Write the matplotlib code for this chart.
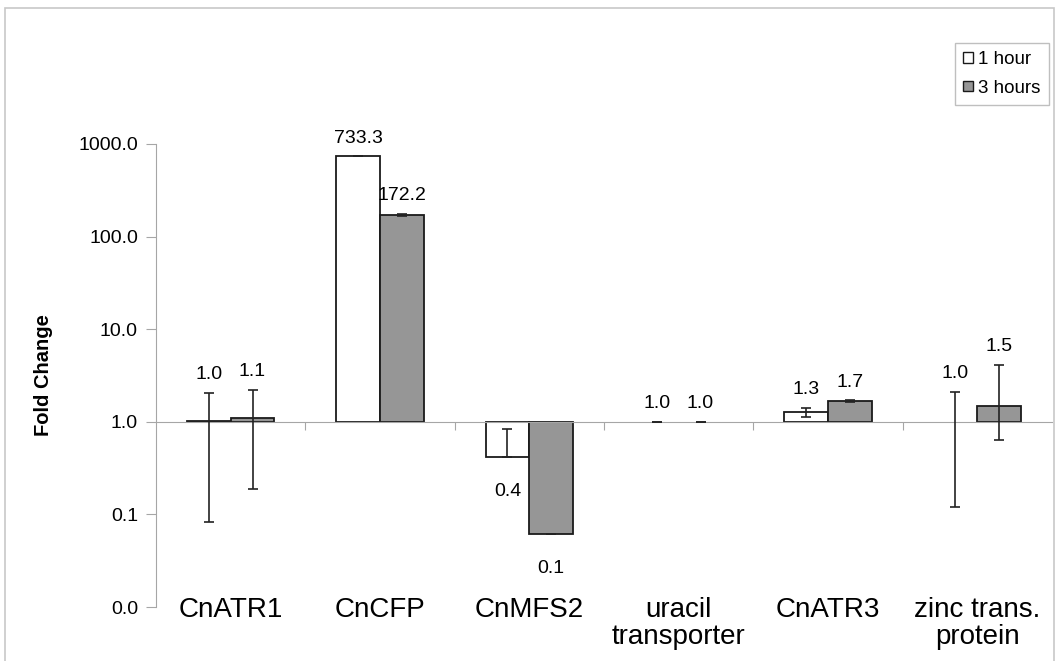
import numpy as np
import matplotlib
matplotlib.use("Agg")
import matplotlib.pyplot as plt
from matplotlib.patches import Rectangle, Patch
from matplotlib.ticker import FixedLocator, FuncFormatter, NullLocator

plt.rcParams['font.family'] = ['Liberation Sans', 'DejaVu Sans']

# fold change data (bars start at 1.0 on a log axis)
genes = ["CnATR1", "CnCFP", "CnMFS2", "uracil\ntransporter", "CnATR3", "zinc trans.\nprotein"]
fold_1h = np.array([1.02, 733.3, 0.42, 1.0, 1.27, 1.0])
fold_3h = np.array([1.10, 172.2, 0.062, 1.0, 1.66, 1.49])
# error bar ends (low, high)
low_1h = np.array([0.082, 733.3, 0.42, 1.0, 1.13, 0.12])
high_1h = np.array([2.04, 733.3, 0.84, 1.0, 1.42, 2.12])
low_3h = np.array([0.19, 168.0, 0.062, 1.0, 1.63, 0.64])
high_3h = np.array([2.2, 176.0, 0.062, 1.0, 1.70, 4.12])
series_names = ["1 hour", "3 hours"]

W, H = 1063, 661
fig = plt.figure(figsize=(W / 100, H / 100), dpi=100)
ax = fig.add_axes([156 / W, 1 - 607 / H, (1052 - 156) / W, (607 - 144) / H])

ax.set_yscale('log')
ax.set_ylim(0.01, 1000)
ax.set_xlim(-0.5, len(genes) - 0.5)

x = np.arange(len(genes))
bw = 0.293
colors = ['white', '#969696']
edge = '#1a1a1a'

for k, (vals, lo, hi) in enumerate([(fold_1h, low_1h, high_1h), (fold_3h, low_3h, high_3h)]):
    xs = x + (k - 0.5) * bw
    ecs = [edge if v != 1.0 else 'none' for v in vals]
    ax.bar(xs, vals - 1, bottom=1, width=bw, color=colors[k], edgecolor=ecs,
           linewidth=1.3, zorder=2)
    ax.errorbar(xs, vals, yerr=[vals - lo, hi - vals], fmt='none', ecolor='#222222',
                elinewidth=1.2, capsize=3.3, capthick=1.2, zorder=3)
    for xi, v, h in zip(xs, vals, hi):
        if v >= 1:
            ax.annotate(f"{v:.1f}", xy=(xi, max(v, h)), xytext=(0, 10),
                        textcoords='offset points', ha='center', va='baseline',
                        fontsize=14)
        else:
            ax.annotate(f"{v:.1f}", xy=(xi, v), xytext=(0, -19),
                        textcoords='offset points', ha='center', va='top',
                        fontsize=14)

# category names under the plot
for xi, name in zip(x, genes):
    ax.annotate(name, xy=(xi, 0), xycoords=('data', 'axes fraction'),
                xytext=(0, 7.5), textcoords='offset points', ha='center', va='top',
                fontsize=20, linespacing=1.05)

grey = '#a6a6a6'
for s in ['top', 'right']:
    ax.spines[s].set_visible(False)
ax.spines['left'].set_color(grey)
ax.spines['bottom'].set_color(grey)
ax.spines['bottom'].set_position(('data', 1))

ax.xaxis.set_major_locator(FixedLocator(x[:-1] + 0.5))
ax.xaxis.set_major_formatter(FuncFormatter(lambda v, p: ""))
ax.tick_params(axis='x', direction='out', length=6, color=grey)

ax.yaxis.set_major_locator(FixedLocator([0.01, 0.1, 1, 10, 100, 1000]))
ax.yaxis.set_minor_locator(NullLocator())
ax.yaxis.set_major_formatter(FuncFormatter(lambda v, p: f"{v:.1f}"))
ax.tick_params(axis='y', direction='out', length=7, color=grey, labelsize=14, pad=6)

ax.set_ylabel("Fold Change", fontsize=14.5, fontweight='bold')
ax.yaxis.set_label_coords((53 - 156) / (1052 - 156), 0.5)

handles = [Patch(facecolor=c, edgecolor=edge, linewidth=1) for c in colors]
leg = fig.legend(handles, series_names, loc='upper right',
                 bbox_to_anchor=(1049 / W, 1 - 43 / H), fontsize=13.5,
                 fancybox=False, edgecolor='#bfbfbf', framealpha=1,
                 handlelength=0.5, handleheight=0.5, handletextpad=0.3,
                 borderpad=0.45, labelspacing=0.6, borderaxespad=0)
leg.get_frame().set_linewidth(1)

# outer chart border
fig.add_artist(Rectangle((5 / W, -0.05), (1054 - 5) / W, 1.05 - 8 / H,
                         transform=fig.transFigure, fill=False,
                         edgecolor='#c8c8c8', linewidth=1.2))

fig.savefig("out.png", dpi=100)
